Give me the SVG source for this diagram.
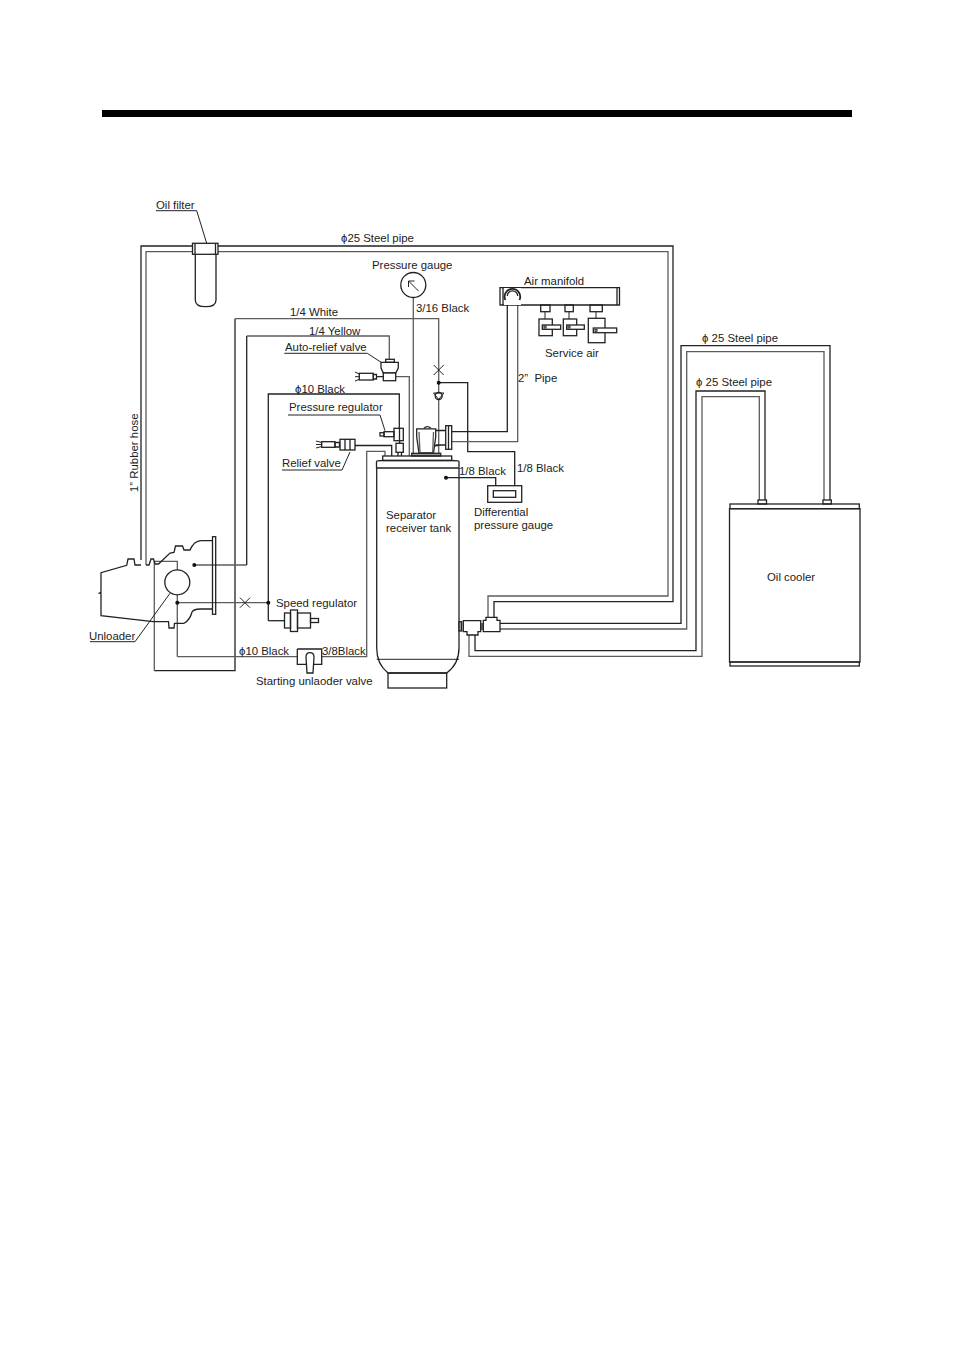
<svg xmlns="http://www.w3.org/2000/svg" width="954" height="1351" viewBox="0 0 954 1351">
<style>
text{font-family:"Liberation Sans",Arial,sans-serif;font-size:11.4px;fill:#222}
path,rect,circle,line{fill:none;stroke:#222;stroke-width:1.3}
.g{stroke:#5c5c5c}
.w{fill:#fff}
.d{fill:#111;stroke:none}
.t{stroke-width:1}
</style>
<rect width="954" height="1351" style="fill:#fff;stroke:none"/>
<rect id="top-bar" x="102" y="110" width="750" height="7" style="fill:#000;stroke:none"/>
<g id="connectors">
<path d="M141 560V246H673V601.7H494V617"/>
<path class="g" d="M146 565V251.7H668V596H488V617"/>
<path d="M500 623.3H681V345.7H830V500"/>
<path class="g" d="M500 629H686.7V351.7H824V500"/>
<path d="M475 635V650.7H696V391H765V500"/>
<path class="g" d="M469 635V656.3H702V396.7H759.3V500"/>
<path d="M154.3 670.7H235V318.7"/>
<path class="g" d="M177.3 570V561.3H154.3V670.7"/>
<path class="g" d="M235 318.7H438.7V454"/>
<path class="g" d="M194.3 565H246.7"/>
<path d="M246.7 565V336"/>
<path class="g" d="M246.7 336H389.3V359"/>
<path class="g" d="M177.3 595V656.7"/>
<path class="g" d="M177.3 656.7H297.3M321.7 656.7H366.7V451.3H385V456"/>
<path class="g" d="M177.3 602.7H268.3"/>
<path d="M268.3 620.7V394H399.3V428"/>
<path d="M268.3 620.7H285"/>
<path class="g" d="M413.3 298V456"/>
<path class="g" d="M395.7 376.7H409.3V456"/>
<path d="M355 445.5H391.7V456"/>
<path d="M438.7 382.7H467.7V451.7H514.7V485.7"/>
<path d="M446 477.7H495.7V485.7"/>
<path d="M451.7 431.7H507.3V296"/>
<path class="g" d="M451.7 441.7H517.7V296"/>
<path class="t" d="M240 597.7L250 607.7M250 597.7L240 607.7"/>
<path class="t" d="M433.7 365L443.7 375M443.7 365L433.7 375"/>
<circle class="d" cx="194.3" cy="565" r="2"/>
<circle class="d" cx="177.3" cy="602.7" r="2"/>
<circle class="d" cx="268.3" cy="602.7" r="2"/>
<circle class="d" cx="438.7" cy="382.7" r="2"/>
<circle class="d" cx="446" cy="477.7" r="2"/>
</g>
<g id="leaders">
<path class="t" d="M156 210.7H196.7L206.7 243.3"/>
<path class="t" d="M284.3 353.3H367.3L381.7 362.7"/>
<path class="t" d="M288 415H380L385 430.7"/>
<path class="t" d="M282 470H342L350 452"/>
<path class="t" d="M90 641.7H135L170 593.3"/>
</g>
<g id="oil-filter">
<path d="M195.3 254V300Q195.3 306.7 205.7 306.7Q216 306.7 216 300V254"/>
<rect class="w" x="192.5" y="243.3" width="25.5" height="11"/>
<path d="M195 243.3V254.3M215.5 243.3V254.3"/>
<text x="156" y="209">Oil filter</text>
</g>
<g id="pipe-label-1"><text x="341" y="242">ϕ25 Steel pipe</text></g>
<g id="rubber-hose"><text transform="translate(138 492) rotate(-90)">1” Rubber hose</text></g>
<g id="pressure-gauge">
<circle cx="413.3" cy="285" r="12.5"/>
<path class="t" d="M418.5 291L408.5 281M408.5 287V281H414.5"/>
<text x="372" y="269">Pressure gauge</text>
<text x="416" y="312">3/16 Black</text>
</g>
<g id="air-manifold">
<path d="M500 287.7H619M500 305H620M500 287V305.5M503 287.7V305M617 287.7V305M619.5 287V305.5"/>
<path style="fill:#fff;stroke:none" d="M504 288H521V305H504Z"/>
<path style="stroke-width:1.8" d="M505.3 300A7.8 7.8 0 1 1 519.5 300"/>
<path d="M507.3 296A5.2 5.2 0 0 1 517.7 296"/>
<text x="524" y="285">Air manifold</text>
</g>
<g id="service-air">
<rect x="540.7" y="305" width="9.3" height="6.7"/><path class="t" d="M545 311.7V319"/>
<rect x="539" y="319" width="13.3" height="16.7"/><rect class="w" x="542.3" y="325" width="18.4" height="4.3"/><rect class="t" x="544" y="326" width="2" height="2"/>
<rect x="565" y="305" width="8.3" height="6.7"/><path class="t" d="M569 311.7V319"/>
<rect x="563.3" y="319" width="13.4" height="16.7"/><rect class="w" x="566.7" y="325" width="17.6" height="4.3"/><rect class="t" x="568" y="326" width="2" height="2"/>
<rect x="590" y="305" width="12.3" height="6.7"/><path class="t" d="M596 311.7V318.3"/>
<rect x="588.3" y="318.3" width="16.7" height="24.4"/><rect class="w" x="593.3" y="328" width="23.4" height="4.7"/><rect class="t" x="595" y="329.3" width="2" height="2"/>
<text x="545" y="357">Service air</text>
</g>
<g id="pipe-label-2"><text x="518" y="382" xml:space="preserve">2”  Pipe</text></g>
<g id="auto-relief-valve">
<rect x="385.7" y="359.3" width="8.6" height="3"/>
<path class="w" d="M381 362.3H398.3V368L395.7 373H383.3L381 368Z"/>
<rect class="w" x="383.3" y="373" width="12.4" height="7.7"/>
<path d="M373.3 374.5H376.5V379H373.3ZM376.5 376.7H383.3"/>
<rect x="359.3" y="373.3" width="14" height="6.7"/>
<path class="t" d="M359.3 374L355 372M359.3 376.7H355M359.3 379.3L355 381"/>
<text x="285" y="351">Auto-relief valve</text>
<text x="309" y="335">1/4 Yellow</text>
<text x="290" y="316">1/4 White</text>
</g>
<g id="check-valve">
<circle class="w" cx="438.7" cy="396" r="3.5"/>
<path class="t" d="M433.5 393H443.9L438.7 399.5Z"/>
</g>
<g id="pressure-regulator">
<rect class="w" x="394" y="428.3" width="9.3" height="12.4"/>
<path d="M399.5 428.3V440.7"/>
<rect x="384" y="431.7" width="10" height="5"/>
<rect x="380" y="432.7" width="4" height="3.3"/>
<rect x="396" y="443.3" width="7.3" height="9"/>
<path d="M399.6 440.7V443.3M398 452.3V456M401.5 452.3V456"/>
<text x="289" y="411">Pressure regulator</text>
<text x="295" y="393">ϕ10 Black</text>
</g>
<g id="relief-valve">
<rect class="w" x="340" y="439.3" width="15" height="10.7"/>
<path d="M345 439.3V450M350 439.3V450"/>
<path d="M335 442.5H339.5V447H335Z"/>
<rect x="321.7" y="441.7" width="13.3" height="5.6"/>
<path class="t" d="M321.7 442.5L316 441M321.7 444.5H316M321.7 446.5L316 448"/>
<text x="282" y="467">Relief valve</text>
</g>
<g id="main-valve">
<path d="M424 428.3Q427 425 431 428.3"/>
<path class="w" d="M416.7 428.8H435.7V437L433.5 453H419L416.7 437Z"/>
<path class="g" d="M419 432L420 453M433.5 432L432.7 453"/>
<path d="M435.7 430.5H445.7M435.7 445H445.7M434 446L440 445"/>
<rect class="w" x="445.7" y="425.7" width="6" height="23.6"/>
<path d="M448.5 425.7V449.3"/>
<rect x="411.7" y="453.3" width="29" height="2.7" style="fill:#999"/>
</g>
<g id="separator-tank">
<path d="M376.7 468V648Q376.7 664 388 673H446.7Q459 664 459 648V468"/>
<path d="M376.5 468V461.5Q376.5 460.5 382.7 460.5H452Q459 460.5 459 461.5V468H376.5Z"/>
<rect x="382.7" y="456" width="69" height="4.5"/>
<path class="t" d="M376.7 659.3H459"/>
<rect x="388" y="673" width="58.7" height="15"/>
<text x="386" y="519">Separator</text>
<text x="386" y="532">receiver tank</text>
<text x="459" y="475">1/8 Black</text>
</g>
<g id="differential-gauge">
<rect x="487.7" y="485.7" width="34" height="16.6"/>
<rect x="493.3" y="490.7" width="22.4" height="6.6"/>
<text x="517" y="472">1/8 Black</text>
<text x="474" y="516">Differential</text>
<text x="474" y="529">pressure gauge</text>
</g>
<g id="fittings">
<rect x="459" y="621.7" width="2.7" height="9.3" style="fill:#999"/>
<path class="w" d="M463.3 620.7H480.7V631.7H478V635H467V631.7H463.3Z"/>
<path class="w" d="M483.3 620.3H486V617.3H497V620.3H500V631.7H483.3Z"/>
<path d="M481 623V630M483 623V630"/>
</g>
<g id="compressor">
<path d="M101 591.7V572.7L126.7 565.3L128 559H134L135 565H141M146 565H149L151 559H153.5L155 564H158.5L170 553L174 552.5L175.5 546H182.5L184 550H190Q194 541 201 540.7H212.5M101 591.7L99.5 593H101V615.7L153 621.7H168.5L169 628H174L174.5 623.3H184Q190 620 192 612Q194 609 200 609H212.5"/>
<rect x="212.5" y="536.7" width="3.2" height="77.6"/>
</g>
<g id="unloader">
<circle cx="177.3" cy="582.3" r="12.5"/>
<text x="89" y="640">Unloader</text>
</g>
<g id="speed-regulator">
<rect x="284.5" y="613" width="6" height="15"/>
<rect x="290.5" y="610" width="7" height="21.5"/>
<rect x="297.5" y="613" width="13" height="15"/>
<rect x="310.5" y="618.5" width="8" height="4"/>
<text x="276" y="607">Speed regulator</text>
</g>
<g id="starting-unloader-valve">
<path d="M297.3 649H321.7V664.3H313M306.5 664.3H297.3V649"/>
<path class="w" d="M306 657Q306 652.7 310 652.7Q314 652.7 314 657L313 673H307Z"/>
<text x="239" y="655">ϕ10 Black</text>
<text x="322" y="655">3/8Black</text>
<text x="256" y="685">Starting unlaoder valve</text>
</g>
<g id="oil-cooler">
<rect x="758" y="500" width="8.5" height="4"/>
<rect x="823" y="500" width="8.3" height="4"/>
<rect x="730" y="504" width="129.3" height="4.7"/>
<rect x="729.5" y="508.7" width="130.5" height="153.3"/>
<rect x="730" y="662" width="129.3" height="4"/>
<text x="767" y="581">Oil cooler</text>
<text x="702" y="342">ϕ 25 Steel pipe</text>
<text x="696" y="386">ϕ 25 Steel pipe</text>
</g>
</svg>
